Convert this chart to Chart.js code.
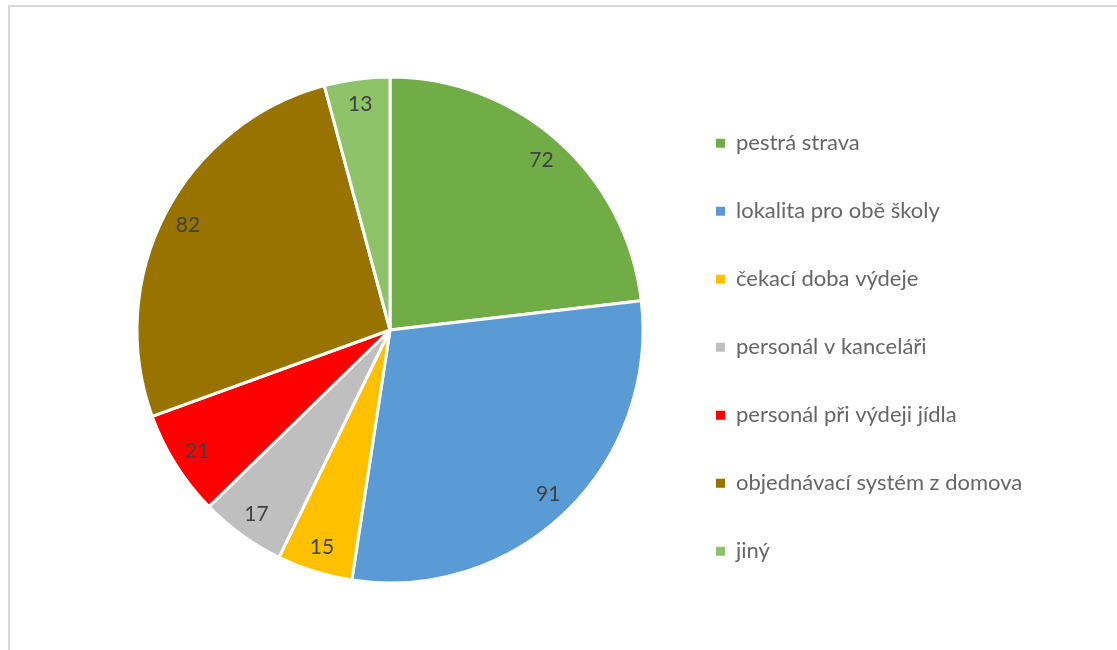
<!DOCTYPE html>
<html>
<head>
<meta charset="utf-8">
<script src="https://cdn.jsdelivr.net/npm/chart.js@4/dist/chart.umd.min.js"></script>
<style>
  html, body { margin: 0; padding: 0; background: #ffffff; }
  #wrap { position: relative; width: 1117px; height: 650px; }
</style>
</head>
<body>
<div id="wrap"><canvas id="c" width="1117" height="650"></canvas></div>
<script>
const categories = ["pestrá strava", "lokalita pro obě školy", "čekací doba výdeje", "personál v kanceláři", "personál při výdeji jídla", "objednávací systém z domova", "jiný"];
const values = [72, 91, 15, 17, 21, 82, 13];
const colors = ["#70AD47", "#5B9BD5", "#FFC000", "#BFBFBF", "#FF0000", "#997300", "#8FC36A"];

const FONT = "Lato, 'Open Sans', sans-serif";
const LEG_SIZE = 22;
const LEG_PAD = 46;

// measure widest legend text to fix the legend placement
const mctx = document.createElement('canvas').getContext('2d');
mctx.font = LEG_SIZE + 'px ' + FONT;
let maxW = 0;
categories.forEach(t => { maxW = Math.max(maxW, mctx.measureText(t).width); });
const legendLeft = 670;
const legendWidth = LEG_PAD + 9 + LEG_SIZE / 2 + maxW + 10;
const padRight = Math.max(0, 1117 - legendLeft - legendWidth);

const framePlugin = {
  id: 'frame',
  beforeDraw(chart) {
    const ctx = chart.ctx;
    ctx.save();
    ctx.fillStyle = '#ffffff';
    ctx.fillRect(0, 0, chart.width, chart.height);
    ctx.strokeStyle = '#D9D9D9';
    ctx.lineWidth = 2;
    ctx.strokeRect(9, 6, 1200, 800);
    ctx.restore();
  }
};

const valueLabels = {
  id: 'valueLabels',
  afterDatasetsDraw(chart) {
    const ctx = chart.ctx;
    const meta = chart.getDatasetMeta(0);
    ctx.save();
    ctx.font = '21px ' + FONT;
    ctx.fillStyle = '#404040';
    ctx.textAlign = 'center';
    ctx.textBaseline = 'middle';
    meta.data.forEach((arc, i) => {
      const p = arc.getProps(['startAngle', 'endAngle', 'outerRadius', 'x', 'y'], true);
      const mid = (p.startAngle + p.endAngle) / 2;
      const r = p.outerRadius * 0.9;
      ctx.fillText(String(chart.data.datasets[0].data[i]), p.x + Math.cos(mid) * r, p.y + Math.sin(mid) * r);
    });
    ctx.restore();
  }
};

new Chart(document.getElementById('c'), {
  type: 'pie',
  data: {
    labels: categories,
    datasets: [{
      data: values,
      backgroundColor: colors,
      borderColor: '#ffffff',
      borderWidth: 3,
      radius: 253
    }]
  },
  options: {
    responsive: false,
    animation: false,
    layout: { padding: { left: 110, right: padRight, top: 10, bottom: 0 } },
    plugins: {
      tooltip: { enabled: false },
      legend: {
        position: 'right',
        align: 'center',
        title: { display: true, text: ' ', font: { size: 12 }, padding: { top: 10, bottom: 10 } },
        labels: {
          boxWidth: 9,
          boxHeight: 9,
          padding: LEG_PAD,
          color: '#595959',
          font: { family: FONT, size: LEG_SIZE },
          generateLabels(chart) {
            return chart.data.labels.map((t, i) => ({
              text: t,
              fillStyle: colors[i],
              strokeStyle: colors[i],
              lineWidth: 0,
              hidden: false,
              index: i
            }));
          }
        }
      }
    }
  },
  plugins: [framePlugin, valueLabels]
});
</script>
</body>
</html>
